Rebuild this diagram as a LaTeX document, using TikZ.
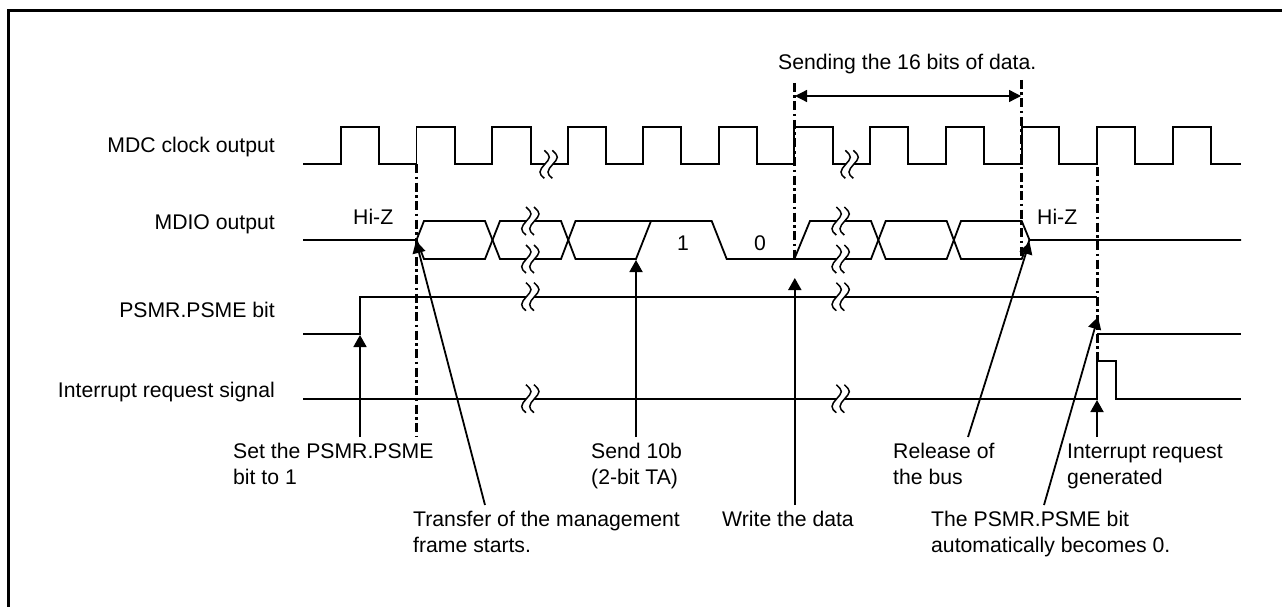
\documentclass[tikz,border=0pt]{standalone}
\usepackage{fontspec}
\setmainfont{Liberation Sans}
\usetikzlibrary{arrows.meta}
\tikzset{
  x=1pt,y=-1pt,
  sig/.style={line width=1.8pt,line join=miter,line cap=butt},
  frameline/.style={line width=3.2pt},
  markline/.style={line width=2.8pt,dash pattern=on 9pt off 3.5pt on 2.5pt off 3.5pt},
  callout/.style={line width=1.8pt,-{Triangle[length=12pt,width=13pt]}},
  spanarrow/.style={line width=1.3pt,{Triangle[length=12pt,width=12pt]}-{Triangle[length=12pt,width=12pt]}},
  lbl/.style={inner sep=0pt,font=\fontsize{21.2}{25.6}\selectfont,align=left,anchor=base west},
  siglbl/.style={inner sep=0pt,font=\fontsize{21.2}{25.6}\selectfont,anchor=base east},
  wavebreak/.pic={
    \fill[white] (-4.7,-14) .. controls (-1,-10.5) and (0.3,-9) .. (0.3,-7) .. controls (0.3,-3) and (-9,3) .. (-9,7.7) .. controls (-9,10) and (-7.5,12) .. (-4.7,14)
      -- (3.3,14) .. controls (0.5,12) and (-1,10) .. (-1,7.7) .. controls (-1,3) and (8.3,-3) .. (8.3,-7) .. controls (8.3,-9) and (7,-10.5) .. (3.3,-14) -- cycle;
    \draw[line width=1.5pt] (-4.7,-14) .. controls (-1,-10.5) and (0.3,-9) .. (0.3,-7) .. controls (0.3,-3) and (-9,3) .. (-9,7.7) .. controls (-9,10) and (-7.5,12) .. (-4.7,14);
    \draw[line width=1.5pt] (3.3,-14) .. controls (7,-10.5) and (8.3,-9) .. (8.3,-7) .. controls (8.3,-3) and (-1,3) .. (-1,7.7) .. controls (-1,10) and (0.5,12) .. (3.3,14);
  }
}
\begin{document}
\begin{tikzpicture}
\useasboundingbox (0,0) rectangle (1282,607);
\draw[frameline] (8.7,607) -- (8.7,10.5) -- (1282,10.5);
% clock
\draw[sig] (303,164.3) -- (340.7,164.3) |- (379.3,126.7) |- (416.5,164.3) |- (454.7,126.7) |- (492.3,164.3) |- (530.7,126.7) |- (567.7,164.3) |- (606,126.7) |- (643.3,164.3) |- (681.3,126.7) |- (719.3,164.3) |- (757,126.7) |- (794.3,164.3) |- (832.7,126.7) |- (870,164.3) |- (908.3,126.7) |- (946,164.3) |- (984,126.7) |- (1021.7,164.3) |- (1059.3,126.7) |- (1097,164.3) |- (1135.3,126.7) |- (1172.7,164.3) |- (1210.7,126.7) |- (1241,164.3);
% MDIO
\draw[sig] (303,240) -- (416.5,240) -- (424,221) -- (485,221) -- (500,259) -- (561,259) -- (575.5,221) -- (711.7,221) -- (726.7,259) -- (794.3,259) -- (810,221) -- (871,221) -- (885.7,259) -- (946.7,259) -- (961,221) -- (1021.7,221) -- (1029.5,240) -- (1241,240);
\draw[sig] (416.5,240) -- (424,259) -- (485,259) -- (500,221) -- (561,221) -- (575.5,259) -- (636,259) -- (651,221);
\draw[sig] (794.3,259) -- (871,259) -- (885.7,221) -- (946.7,221) -- (961,259) -- (1021.7,259) -- (1029.5,240);
% PSME
\draw[sig,line width=1.6pt] (303,334) -- (360,334) -- (360,296.7) -- (1097,296.7);
\draw[sig,line width=1.6pt] (1097,334) -- (1241,334);
% Interrupt
\draw[sig,line width=1.6pt] (303,398.7) -- (1097,398.7) -- (1097,361) -- (1116,361) -- (1116,398.7) -- (1241,398.7);
% breaks
\foreach \yy in {221,259,296.7,398.7} {\pic at (530.7,\yy) {wavebreak};\pic at (841,\yy) {wavebreak};}
\pic at (549,164.3) {wavebreak};
\pic at (850,164.3) {wavebreak};
% dash-dot marks
\coordinate (m1a) at (416.5,164);
\coordinate (m1b) at (416.5,437);
\coordinate (m2a) at (794.6,83);
\coordinate (m2b) at (794.6,258);
\coordinate (m3a) at (1021.7,80);
\coordinate (m3b) at (1021.7,258);
\coordinate (m4a) at (1097.4,167);
\coordinate (m4b) at (1097.4,362);
\draw[markline] (m1a) -- (m1b);
\draw[markline] (m2a) -- (m2b);
\draw[markline] (m3a) -- (m3b);
\draw[markline] (m4a) -- (m4b);
% labels
\node[siglbl] (l1) at (275,153) {MDC clock output};
\node[siglbl] (l2) at (275,229) {MDIO output};
\node[siglbl] (l3) at (275,317) {PSMR.PSME bit};
\node[siglbl] (l4) at (275,397) {Interrupt request signal};
\node[lbl] (hz1) at (353,224) {Hi-Z};
\node[lbl] (hz2) at (1037,224) {Hi-Z};
\node[lbl] (b1) at (677,250) {1};
\node[lbl] (b0) at (754,250) {0};
\node[lbl] (sd) at (778,70) {Sending the 16 bits of data.};
\node[lbl] (t1) at (233,484) {Set the PSMR.PSME\\bit to 1};
\node[lbl] (t2) at (591,484) {Send 10b\\(2-bit TA)};
\node[lbl] (t3) at (413,552) {Transfer of the management\\frame starts.};
\node[lbl] (t4) at (722,526.4) {Write the data};
\node[lbl] (t5) at (893,484) {Release of\\the bus};
\node[lbl] (t6) at (1067,484) {Interrupt request\\generated};
\node[lbl] (t7) at (931,552) {The PSMR.PSME bit\\automatically becomes 0.};
% callouts
\coordinate (a1s) at (360,437);   \coordinate (a1e) at (360,335);
\coordinate (a2s) at (636,437);   \coordinate (a2e) at (636,260);
\coordinate (a3s) at (485,505);   \coordinate (a3e) at (416,241);
\coordinate (a4s) at (794.8,505); \coordinate (a4e) at (794.8,278);
\coordinate (a5s) at (968,437);   \coordinate (a5e) at (1029.5,242);
\coordinate (a6s) at (1044,505);  \coordinate (a6e) at (1098,317);
\coordinate (a7s) at (1097,437);  \coordinate (a7e) at (1097,400);
\draw[callout] (a1s) -- (a1e);
\draw[callout] (a2s) -- (a2e);
\draw[callout] (a3s) -- (a3e);
\draw[callout] (a4s) -- (a4e);
\draw[callout] (a5s) -- (a5e);
\draw[callout] (a6s) -- (a6e);
\draw[callout] (a7s) -- (a7e);
\coordinate (s1) at (795,96); \coordinate (s2) at (1021,96);
\draw[spanarrow] (s1) -- (s2);
\end{tikzpicture}
\end{document}
